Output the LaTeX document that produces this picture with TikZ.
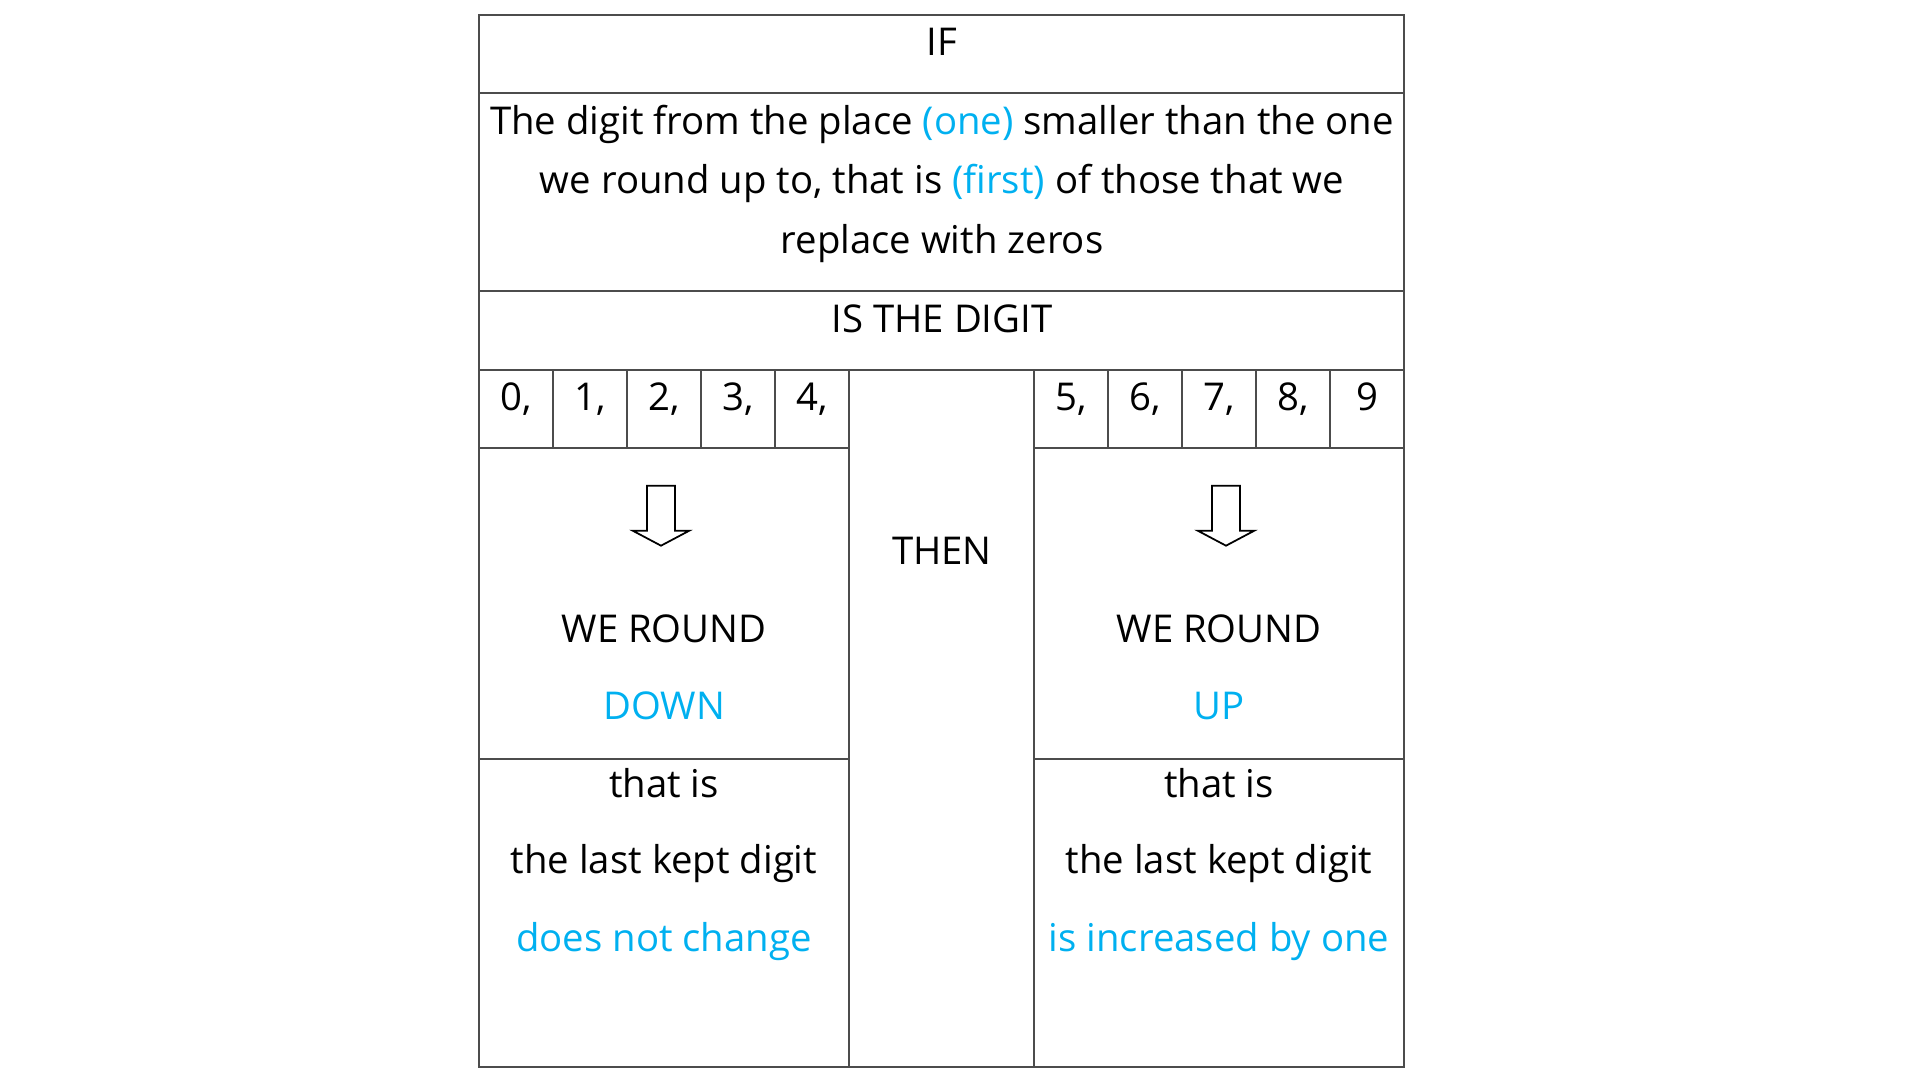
\documentclass[tikz,border=0pt]{standalone}
\usepackage{fontspec}
\setmainfont{Open Sans}
\usetikzlibrary{positioning}
\definecolor{hiblue}{HTML}{00B0F0}

\begin{document}
\begin{tikzpicture}[font=\fontsize{10.9}{16.8}\selectfont,
	every node/.style={inner sep=0pt, anchor=base},
	grid/.style={line width=0.5pt, draw=black!70},
	blockarrow/.style={line width=0.5pt, draw=black}]
	\useasboundingbox (0,0) rectangle (19.2,10.8);
	\draw[grid] (4.79,0.13) rectangle (14.04,10.65);
	\draw[grid] (4.79,9.87) -- (14.04,9.87);
	\draw[grid] (4.79,7.89) -- (14.04,7.89);
	\draw[grid] (4.79,7.10) -- (14.04,7.10);
	\draw[grid] (4.79,6.32) -- (8.49,6.32) (10.34,6.32) -- (14.04,6.32);
	\draw[grid] (4.79,3.21) -- (8.49,3.21) (10.34,3.21) -- (14.04,3.21);
	\draw[grid] (8.49,0.13) -- (8.49,7.10) (10.34,0.13) -- (10.34,7.10);
	\foreach \i in {1,...,4} {
		\draw[grid] ({4.79+\i*0.74},6.32) -- ({4.79+\i*0.74},7.10);
		\draw[grid] ({10.34+\i*0.74},6.32) -- ({10.34+\i*0.74},7.10);
	}
	\node (IF) at (9.42,10.24) {IF};
	\node (C1) at (9.42,9.45) {The digit from the place \textcolor{hiblue}{(one)} smaller than the one};
	\node (C2) at (9.42,8.867) {we round up to, that is \textcolor{hiblue}{(first)} of those that we};
	\node (C3) at (9.42,8.267) {replace with zeros};
	\node (IS) at (9.42,7.477) {IS THE DIGIT};
	\foreach \d [count=\i from 0] in {0,...,4}
		\node (D\d) at ({5.16+\i*0.74},6.69) {\d,};
	\foreach \d [count=\i from 0] in {5,...,8}
		\node (D\d) at ({10.71+\i*0.74},6.69) {\d,};
	\node (D9) at (13.67,6.69) {9};
	\node (TH) at (9.42,5.157) {THEN};
	\foreach \x in {6.61,12.26}
		\draw[blockarrow] (\x-0.14,5.943) -- (\x+0.14,5.943) -- (\x+0.14,5.493) -- (\x+0.283,5.493)
			-- (\x,5.343) -- (\x-0.283,5.493) -- (\x-0.14,5.493) -- cycle;
	\node (WRL) at (6.64,4.377) {WE ROUND};
	\node (DN) at (6.64,3.60) {\textcolor{hiblue}{DOWN}};
	\node (TL) at (6.64,2.827) {that is};
	\node (KL) at (6.64,2.067) {the last kept digit};
	\node (NC) at (6.64,1.283) {\textcolor{hiblue}{does not change}};
	\node (WRR) at (12.19,4.377) {WE ROUND};
	\node (UP) at (12.19,3.60) {\textcolor{hiblue}{UP}};
	\node (TR) at (12.19,2.827) {that is};
	\node (KR) at (12.19,2.067) {the last kept digit};
	\node (IN) at (12.19,1.283) {\textcolor{hiblue}{is increased by one}};
\end{tikzpicture}
\end{document}
